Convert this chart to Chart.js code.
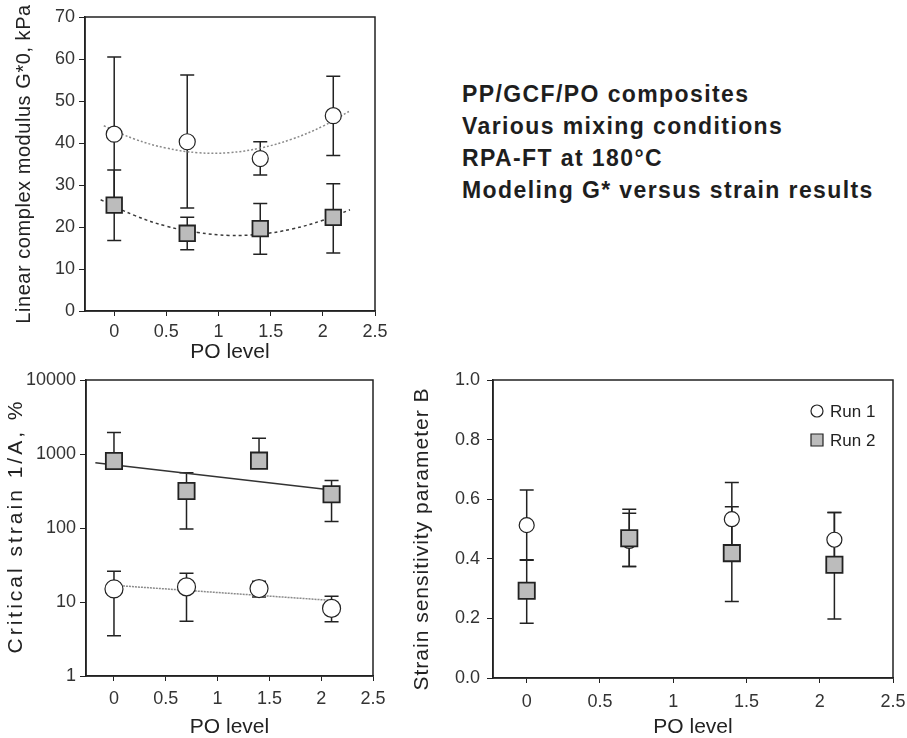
<!DOCTYPE html>
<html>
<head>
<meta charset="utf-8">
<script src="https://cdn.jsdelivr.net/npm/chart.js@4.4.1/dist/chart.umd.min.js"></script>
<style>
  body { margin: 0; background: #fff; }
  #page { position: relative; width: 907px; height: 738px; overflow: hidden; background: #fff; }
  canvas { position: absolute; }
  #note {
    position: absolute; left: 462px; top: 78px;
    font: bold 23px "Liberation Sans", Arial, sans-serif;
    letter-spacing: 1.4px;
    line-height: 32px; color: #1e1e1e;
  }
</style>
</head>
<body>
<div id="page">
  <canvas id="modChart" width="420" height="365" style="left:0;top:0"></canvas>
  <canvas id="strainChart" width="420" height="380" style="left:0;top:360px"></canvas>
  <canvas id="sensChart" width="507" height="380" style="left:400px;top:360px"></canvas>
  <div id="note">
    PP/GCF/PO composites<br>
    Various mixing conditions<br>
    RPA-FT at 180°C<br>
    Modeling G* versus strain results
  </div>
</div>
<script>
// PO levels shared by all panels
const poLevels = [0, 0.7, 1.4, 2.1];
const xTicks = [0, 0.5, 1, 1.5, 2, 2.5];

// Top panel: linear complex modulus G*0 (kPa)
const modRun1 = [42.1, 40.3, 36.3, 46.5];
const modRun1Lo = [23.6, 24.5, 32.4, 37.0];
const modRun1Hi = [60.5, 56.2, 40.3, 55.9];
const modRun2 = [25.2, 18.5, 19.6, 22.3];
const modRun2Lo = [16.8, 14.6, 13.5, 13.8];
const modRun2Hi = [33.6, 22.3, 25.6, 30.3];
const modFitX1 = [-0.1, 0.2, 0.5, 0.8, 1.1, 1.4, 1.7, 2.0, 2.25];
const modFitY1 = [44.1, 40.9, 38.8, 37.7, 37.7, 38.8, 40.9, 44.0, 47.5];
const modFitX2 = [-0.13, 0.2, 0.5, 0.8, 1.1, 1.4, 1.7, 2.0, 2.26];
const modFitY2 = [26.5, 22.7, 20.2, 18.7, 18.0, 18.3, 19.5, 21.6, 24.1];
const modTicks = [0, 10, 20, 30, 40, 50, 60, 70];

// Bottom left: critical strain 1/A (%)
const strainRun1 = [15, 16, 15.2, 8.2];
const strainRun1Lo = [3.5, 5.5, 11.7, 5.4];
const strainRun1Hi = [26, 24.4, 19, 12];
const strainRun2 = [804, 316, 813, 285];
const strainRun2Lo = [650, 97, 650, 122];
const strainRun2Hi = [1950, 560, 1630, 437];
const strainFitX1 = [0, 2.1];
const strainFitY1 = [16.8, 10.5];
const strainFitX2 = [-0.18, 2.1];
const strainFitY2 = [763, 326];
const strainTicks = [1, 10, 100, 1000, 10000];

// Bottom right: strain sensitivity parameter B
const sensRun1 = [0.513, 0.46, 0.533, 0.464];
const sensRun1Lo = [0.395, 0.374, 0.41, 0.39];
const sensRun1Hi = [0.631, 0.566, 0.656, 0.555];
const sensRun2 = [0.293, 0.469, 0.419, 0.38];
const sensRun2Lo = [0.184, 0.374, 0.257, 0.198];
const sensRun2Hi = [0.397, 0.553, 0.575, 0.555];
const sensTicks = [0, 0.2, 0.4, 0.6, 0.8, 1.0];

const FONT = '"Liberation Sans", Arial, sans-serif';
const INK = '#222';
const TICK_INK = '#333';
const SQUARE_FILL = '#bcbcbc';

const pts = (xs, ys) => xs.map((x, i) => ({ x: x, y: ys[i] }));

// error bars, drawn under the markers
const errorBars = {
  id: 'errorBars',
  beforeDatasetsDraw(chart) {
    const ctx = chart.ctx;
    const xs = chart.scales.x, ys = chart.scales.y;
    ctx.save();
    ctx.strokeStyle = INK;
    ctx.lineWidth = 1.5;
    chart.data.datasets.forEach(ds => {
      if (!ds.errLow) return;
      ds.data.forEach((p, i) => {
        const px = xs.getPixelForValue(p.x);
        const lo = ys.getPixelForValue(ds.errLow[i]);
        const hi = ys.getPixelForValue(ds.errHigh[i]);
        ctx.beginPath();
        ctx.moveTo(px, lo); ctx.lineTo(px, hi);
        ctx.moveTo(px - 7, lo); ctx.lineTo(px + 7, lo);
        ctx.moveTo(px - 7, hi); ctx.lineTo(px + 7, hi);
        ctx.stroke();
      });
    });
    ctx.restore();
  }
};

// closed box round the plot area
const frame = {
  id: 'frame',
  afterDraw(chart) {
    const a = chart.chartArea, ctx = chart.ctx;
    ctx.save();
    ctx.strokeStyle = INK;
    ctx.lineWidth = 1.5;
    ctx.strokeRect(a.left, a.top, a.right - a.left, a.bottom - a.top);
    ctx.restore();
  }
};

// rotated y title, letter-spaced like the scanned original
const yTitle = {
  id: 'yTitle',
  afterDraw(chart) {
    const o = chart.options.plugins.yTitle;
    if (!o) return;
    const a = chart.chartArea, ctx = chart.ctx;
    ctx.save();
    ctx.translate(o.x, (a.top + a.bottom) / 2 + (o.dy || 0));
    ctx.rotate(-Math.PI / 2);
    ctx.font = o.size + 'px ' + FONT;
    ctx.letterSpacing = o.spacing + 'px';
    ctx.fillStyle = INK;
    ctx.textAlign = 'center';
    ctx.textBaseline = 'middle';
    ctx.fillText(o.text, 0, 0);
    ctx.restore();
  }
};

// legend inside the plot, top right
const runLegend = {
  id: 'runLegend',
  afterDraw(chart) {
    const opts = chart.options.plugins.runLegend;
    if (!opts || !opts.show) return;
    const a = chart.chartArea, ctx = chart.ctx;
    const x = a.right - 76;
    ctx.save();
    ctx.font = '17px ' + FONT;
    ctx.textBaseline = 'middle';
    chart.data.datasets.filter(d => d.inLegend).forEach((ds, i) => {
      const y = a.top + 31 + i * 29;
      ctx.lineWidth = 1.2;
      ctx.strokeStyle = INK;
      ctx.beginPath();
      if (ds.pointStyle === 'rect') {
        ctx.rect(x - 6, y - 6, 12, 12);
        ctx.fillStyle = SQUARE_FILL;
      } else {
        ctx.arc(x, y, 6, 0, Math.PI * 2);
        ctx.fillStyle = '#fff';
      }
      ctx.fill(); ctx.stroke();
      ctx.fillStyle = INK;
      ctx.fillText(ds.label, x + 13, y + 1);
    });
    ctx.restore();
  }
};

function xAxis(xMin, height, pad) {
  return {
    type: 'linear', min: xMin, max: 2.5,
    afterBuildTicks: s => { s.ticks = xTicks.map(v => ({ value: v })); },
    afterFit: s => { s.height = height; s.paddingRight = 0; s.paddingLeft = 0; },
    ticks: { color: TICK_INK, font: { family: FONT, size: 18 }, padding: pad, maxRotation: 0, callback: v => String(v) },
    grid: { drawOnChartArea: false, color: INK, tickLength: 5 },
    border: { color: INK, width: 1.5 },
    title: { display: true, text: 'PO level', color: INK, font: { family: FONT, size: 21 }, padding: 0 }
  };
}

function yAxis(opt) {
  return {
    type: opt.type || 'linear', min: opt.min, max: opt.max,
    afterBuildTicks: s => { s.ticks = opt.ticks.map(v => ({ value: v })); },
    afterFit: s => { s.width = opt.width; },
    ticks: { color: TICK_INK, font: { family: FONT, size: 18 }, padding: opt.pad, callback: opt.fmt },
    grid: { drawOnChartArea: false, color: INK, tickLength: 6 },
    border: { color: INK, width: 1.5 },
    title: { display: false }
  };
}

function markers(label, ys, lo, hi, square, radius) {
  return {
    label: label,
    data: pts(poLevels, ys),
    errLow: lo, errHigh: hi,
    inLegend: true,
    showLine: false,
    pointStyle: square ? 'rect' : 'circle',
    pointRadius: radius,
    pointBackgroundColor: square ? SQUARE_FILL : '#fff',
    pointBorderColor: INK,
    pointBorderWidth: square ? 1.8 : 1.2,
    order: square ? 0 : 1
  };
}

function fitLine(xs, ys, color, dash, tension) {
  return {
    data: pts(xs, ys),
    showLine: true,
    borderColor: color,
    borderWidth: 1.5,
    borderDash: dash,
    pointRadius: 0,
    tension: tension,
    order: 2
  };
}

function baseOptions(padding, scales, extra) {
  return {
    responsive: false,
    animation: false,
    devicePixelRatio: 1,
    layout: { padding: padding },
    scales: scales,
    plugins: Object.assign({ legend: { display: false }, tooltip: { enabled: false } }, extra || {})
  };
}

new Chart(document.getElementById('modChart'), {
  type: 'scatter',
  data: {
    datasets: [
      markers('Run 2', modRun2, modRun2Lo, modRun2Hi, true, 11),
      markers('Run 1', modRun1, modRun1Lo, modRun1Hi, false, 8),
      fitLine(modFitX1, modFitY1, '#8a8a8a', [2, 2], 0.4),
      fitLine(modFitX2, modFitY2, '#3a3a3a', [3, 3], 0.4)
    ]
  },
  options: baseOptions({ left: 13, top: 17, right: 45, bottom: 0 }, {
    x: xAxis(-0.28, 54, 5),
    y: yAxis({ min: 0, max: 70, ticks: modTicks, width: 72, pad: 4, fmt: v => String(v) })
  }, { yTitle: { text: 'Linear complex modulus G*0, kPa', size: 20, spacing: 0.55, x: 24.5, dy: 0 } }),
  plugins: [errorBars, frame, yTitle]
});

new Chart(document.getElementById('strainChart'), {
  type: 'scatter',
  data: {
    datasets: [
      markers('Run 2', strainRun2, strainRun2Lo, strainRun2Hi, true, 11.5),
      markers('Run 1', strainRun1, strainRun1Lo, strainRun1Hi, false, 9),
      fitLine(strainFitX1, strainFitY1, '#8a8a8a', [2, 1], 0),
      fitLine(strainFitX2, strainFitY2, '#333', [], 0)
    ]
  },
  options: baseOptions({ left: 4, top: 20, right: 47, bottom: 0 }, {
    x: xAxis(-0.27, 64, 7),
    y: yAxis({ type: 'logarithmic', min: 1, max: 10000, ticks: strainTicks, width: 82, pad: 4, fmt: v => String(v) })
  }, { yTitle: { text: 'Critical strain 1/A, %', size: 21, spacing: 3, x: 16.5, dy: -2 } }),
  plugins: [errorBars, frame, yTitle]
});

new Chart(document.getElementById('sensChart'), {
  type: 'scatter',
  data: {
    datasets: [
      markers('Run 2', sensRun2, sensRun2Lo, sensRun2Hi, true, 11.5),
      markers('Run 1', sensRun1, sensRun1Lo, sensRun1Hi, false, 7.5)
    ]
  },
  options: baseOptions({ left: 10, top: 20, right: 14, bottom: 0 }, {
    x: xAxis(-0.23, 62, 8),
    y: yAxis({ min: 0, max: 1, ticks: sensTicks, width: 83, pad: 7, fmt: v => Number(v).toFixed(1) })
  }, {
    runLegend: { show: true },
    yTitle: { text: 'Strain sensitivity parameter B', size: 21, spacing: 1, x: 22, dy: 10 }
  }),
  plugins: [errorBars, frame, yTitle, {
    id: 'legendOrder',
    beforeInit(chart) {
      // legend lists Run 1 before Run 2
      chart.data.datasets.sort((a, b) => (a.label === 'Run 1' ? -1 : 1));
    }
  }, runLegend]
});
</script>
</body>
</html>
